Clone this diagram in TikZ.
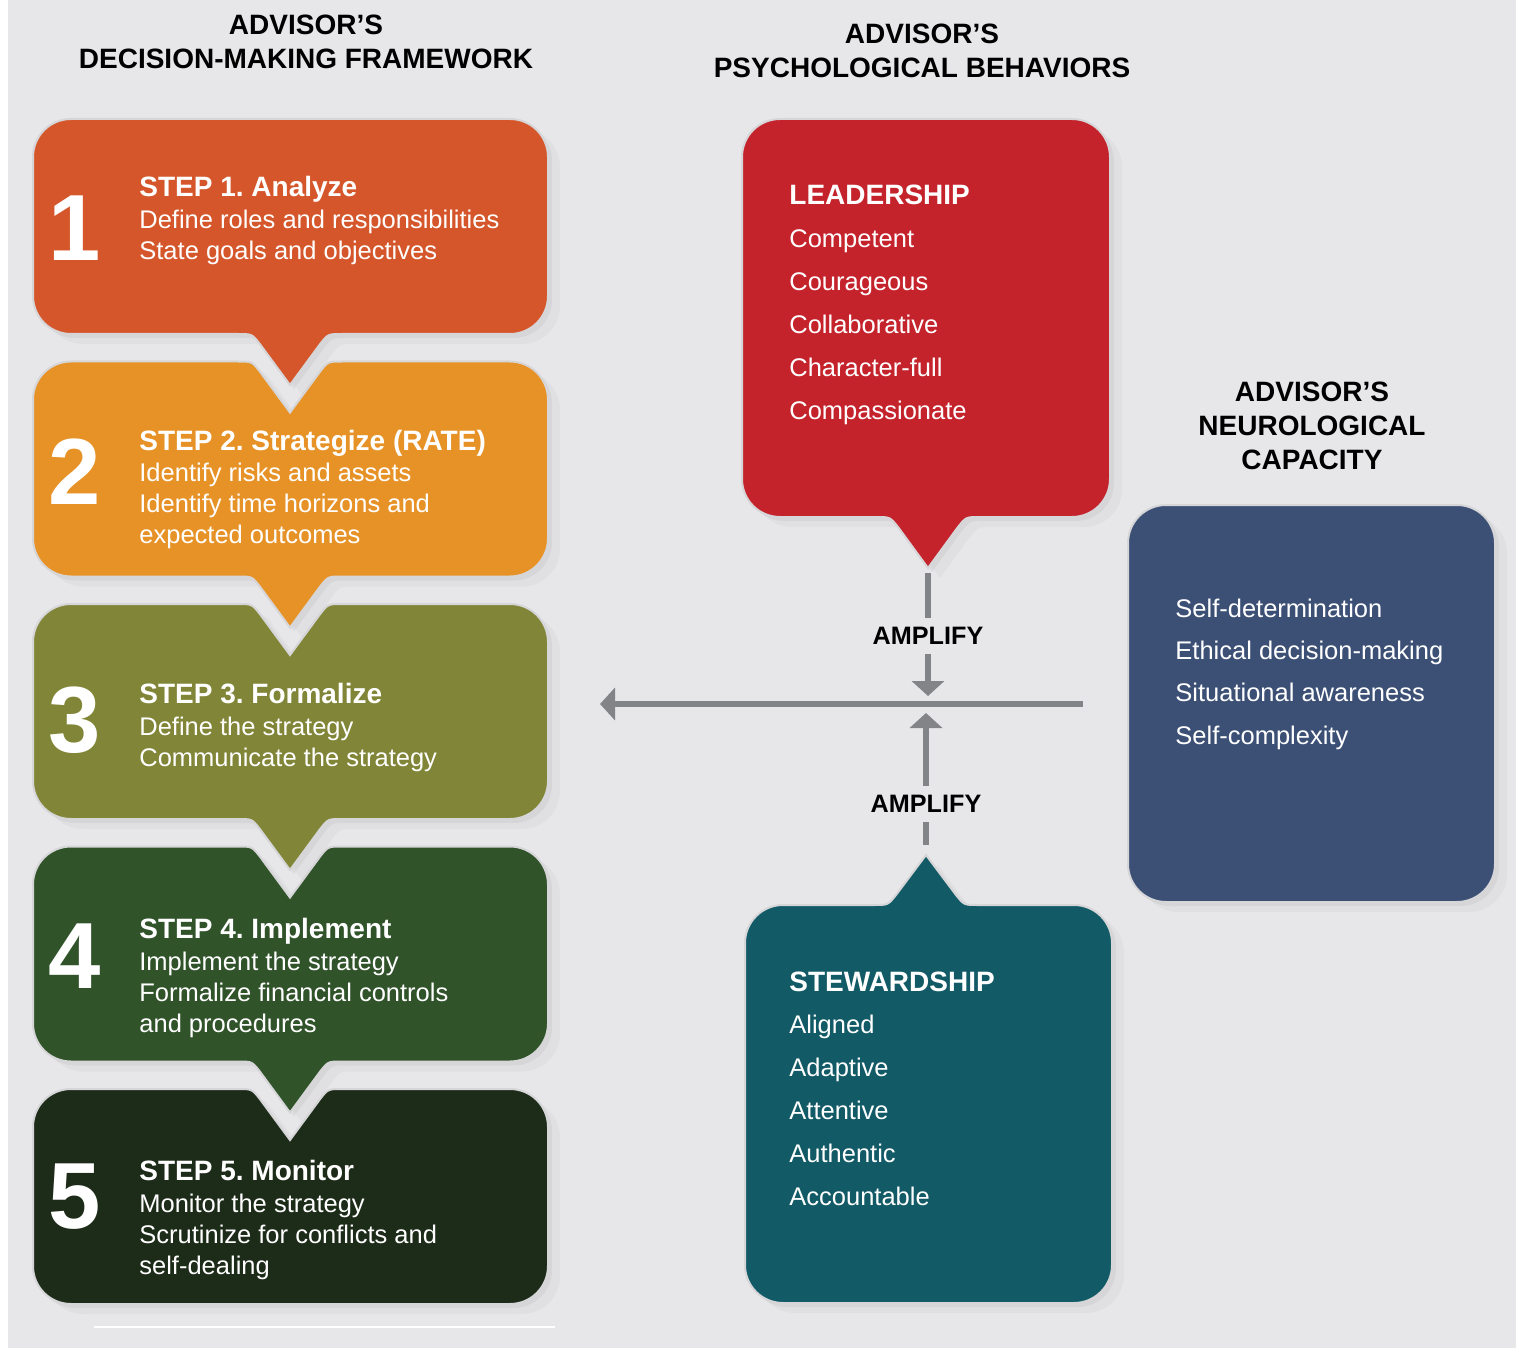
\documentclass[tikz,border=0pt]{standalone}
\usepackage{fontspec}
\setmainfont{Liberation Sans}
\frenchspacing
\usetikzlibrary{arrows.meta, shadows}
\definecolor{bggray}{HTML}{E7E6E9}
\definecolor{edgegray}{HTML}{D6D6D9}
\definecolor{arrowgray}{HTML}{838488}
\definecolor{stepone}{HTML}{D5562A}
\definecolor{steptwo}{HTML}{E79227}
\definecolor{stepthree}{HTML}{818537}
\definecolor{stepfour}{HTML}{30532A}
\definecolor{stepfive}{HTML}{1D2B19}
\definecolor{leadred}{HTML}{C5232C}
\definecolor{stewteal}{HTML}{115A66}
\definecolor{neuroblue}{HTML}{3C5076}
\tikzset{
  bubble/.style={draw=edgegray, line width=1pt,
    drop shadow={shadow xshift=2pt, shadow yshift=-2pt, opacity=.10},
    drop shadow={shadow xshift=6pt, shadow yshift=-5pt, opacity=.06}},
  headtext/.style={font=\fontsize{14}{17}\selectfont\bfseries, align=center, inner sep=0pt},
  stepnum/.style={font=\fontsize{47}{47}\selectfont\bfseries, text=white, inner sep=0pt},
  boxtext/.style={anchor=base west, inner sep=0pt, text=white},
  amptext/.style={font=\fontsize{12.6}{14}\selectfont\bfseries, inner sep=0pt, outer sep=4.5pt},
  ampline/.style={draw=arrowgray, line width=3.3pt},
  amparrow/.style={ampline, -{Triangle[length=7.5pt, width=16pt]}}
}

\begin{document}
\begin{tikzpicture}[x=0.5pt, y=-0.5pt]
  \useasboundingbox (0,0) rectangle (1516,1348);

  % background
  \fill[white] (0,0) rectangle (1516,1348);
  \fill[bggray] (8,0) rectangle (1516,1348);
  \draw[white, line width=0.6pt] (94,1327) -- (555,1327);

  % column headings
  \node[headtext] (headdecision) at (306,42) {ADVISOR’S\\DECISION-MAKING FRAMEWORK};
  \node[headtext] (headpsych) at (922,51) {ADVISOR’S\\PSYCHOLOGICAL BEHAVIORS};
  \node[headtext] (headneuro) at (1312,426) {ADVISOR’S\\NEUROLOGICAL\\CAPACITY};

  % step boxes, bottom one first so each pointer lies on the next box
  \foreach \i/\col/\nd/\pd in {5/stepfive/51/0, 4/stepfour/51/51, 3/stepthree/51/51, 2/steptwo/51/51, 1/stepone/0/51}{
    \pgfmathsetmacro{\yt}{119+242.5*(\i-1)}
    \pgfmathsetmacro{\yb}{\yt+215}
    \path[fill=\col, bubble] (33,\yt+38) .. controls (33,\yt+17) and (50,\yt) .. (71,\yt)
      -- (238,\yt) .. controls (252,\yt) .. (260,\yt+0.2*\nd) -- (290,\yt+\nd)
      -- (320,\yt+0.2*\nd) .. controls (328,\yt) .. (342,\yt)
      -- (510,\yt) .. controls (531,\yt) and (548,\yt+17) .. (548,\yt+38)
      -- (548,\yb-38) .. controls (548,\yb-17) and (531,\yb) .. (510,\yb)
      -- (342,\yb) .. controls (328,\yb) .. (320,\yb+0.2*\pd) -- (290,\yb+\pd)
      -- (260,\yb+0.2*\pd) .. controls (252,\yb) .. (238,\yb)
      -- (71,\yb) .. controls (50,\yb) and (33,\yb-17) .. (33,\yb-38) -- cycle;
  }

  % step texts
  \foreach \i/\ny/\ty/\head/\body in {
    1/228/197/{STEP 1. Analyze}/{Define roles and responsibilities\\State goals and objectives},
    2/472/450/{STEP 2. Strategize (RATE)}/{Identify risks and assets\\Identify time horizons and\\expected outcomes},
    3/720/703/{STEP 3. Formalize}/{Define the strategy\\Communicate the strategy},
    4/956/938/{STEP 4. Implement}/{Implement the strategy\\Formalize financial controls\\and procedures},
    5/1197/1180/{STEP 5. Monitor}/{Monitor the strategy\\Scrutinize for conflicts and\\self-dealing}}{
    \node[stepnum] (num\i) at (75,\ny) {\i};
    \node[boxtext, font=\fontsize{12.75}{15.5}\selectfont] (step\i) at (139,\ty)
      {\begin{tabular}[t]{@{}l@{}}{\fontsize{14}{15.5}\selectfont\bfseries\head}\\[0.5pt]\body\end{tabular}};
  }

  % leadership bubble
  \path[fill=leadred, bubble] (742,157) .. controls (742,136) and (759,119) .. (780,119)
    -- (1072,119) .. controls (1093,119) and (1110,136) .. (1110,157)
    -- (1110,479) .. controls (1110,500) and (1093,517) .. (1072,517)
    -- (980,517) .. controls (966,517) .. (958,527) -- (928,568)
    -- (898,527) .. controls (890,517) .. (876,517)
    -- (780,517) .. controls (759,517) and (742,500) .. (742,479) -- cycle;
  \node[boxtext, font=\fontsize{12.75}{21.5}\selectfont] (leadership) at (789,205)
    {\begin{tabular}[t]{@{}l@{}}{\fontsize{14}{16}\selectfont\bfseries LEADERSHIP}\\Competent\\Courageous\\Collaborative\\Character-full\\Compassionate\end{tabular}};

  % stewardship bubble
  \path[fill=stewteal, bubble] (745,943) .. controls (745,922) and (762,905) .. (783,905)
    -- (874,905) .. controls (888,905) .. (896,895) -- (926,855)
    -- (956,895) .. controls (964,905) .. (978,905)
    -- (1074,905) .. controls (1095,905) and (1112,922) .. (1112,943)
    -- (1112,1265) .. controls (1112,1286) and (1095,1303) .. (1074,1303)
    -- (783,1303) .. controls (762,1303) and (745,1286) .. (745,1265) -- cycle;
  \node[boxtext, font=\fontsize{12.75}{21.4}\selectfont] (stewardship) at (789,991)
    {\begin{tabular}[t]{@{}l@{}}{\fontsize{14}{16}\selectfont\bfseries STEWARDSHIP}\\Aligned\\Adaptive\\Attentive\\Authentic\\Accountable\end{tabular}};

  % neurological capacity box
  \path[fill=neuroblue, bubble, rounded corners=19pt] (1128,505) rectangle (1495,902);
  \node[boxtext, font=\fontsize{12.75}{21.2}\selectfont] (neuro) at (1175,617)
    {\begin{tabular}[t]{@{}l@{}}Self-determination\\Ethical decision-making\\Situational awareness\\Self-complexity\end{tabular}};

  % amplify arrows
  \coordinate (leadtip) at (928,568);
  \coordinate (stewtip) at (926,855);
  \coordinate (flowstart) at (1083,704);
  \coordinate (flowend) at (600,704);
  \coordinate (crossabove) at (928,696);
  \coordinate (crossbelow) at (926,713);
  \node[amptext] (ampabove) at (928,636) {AMPLIFY};
  \node[amptext] (ampbelow) at (926,804) {AMPLIFY};
  \draw[amparrow, line width=3pt] (flowstart) -- (flowend);
  \draw[ampline, shorten <=2.5pt] (leadtip) -- (ampabove);
  \draw[amparrow] (ampabove) -- (crossabove);
  \draw[amparrow] (ampbelow) -- (crossbelow);
  \draw[ampline, shorten <=5pt] (stewtip) -- (ampbelow);
\end{tikzpicture}
\end{document}
